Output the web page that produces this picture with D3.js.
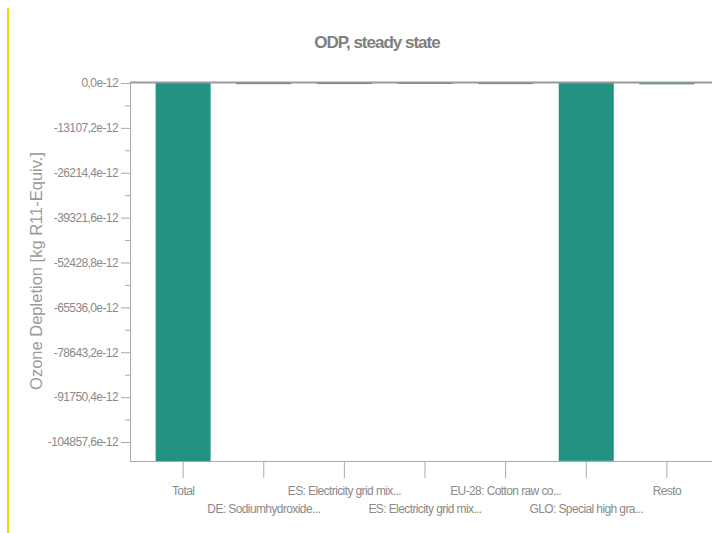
<!DOCTYPE html>
<html>
<head>
<meta charset="utf-8">
<script src="https://cdn.jsdelivr.net/npm/d3@7"></script>
<style>
  html, body { margin: 0; padding: 0; background: #fff; }
  svg { display: block; font-family: "Liberation Sans", Arial, sans-serif; }
</style>
</head>
<body>
<svg id="chart" width="712" height="533"></svg>
<script>
// ---- data ----
const categories = [
  "Total",
  "DE: Sodiumhydroxide...",
  "ES: Electricity grid mix...",
  "ES: Electricity grid mix...",
  "EU-28: Cotton raw co...",
  "GLO: Special high gra...",
  "Resto"
];
const values = [-110410, -330, -300, -280, -320, -110380, -380]; // e-12 kg R11-Equiv.
const yTickValues = [0, -13107.2, -26214.4, -39321.6, -52428.8, -65536.0, -78643.2, -91750.4, -104857.6];
const yMinorTicks = [-6553.6, -19660.8, -32768.0, -45875.2, -58982.4, -72089.6, -85196.8, -98304.0];
const yDomain = [-110410, 0];
const titleText = "ODP, steady state";
const yLabelText = "Ozone Depletion [kg R11-Equiv.]";

// ---- layout ----
const svg = d3.select("#chart");
const mLeft = 130, mTop = 83, mBottom = 461, mRight = 720;
const barColor = "#229383";
const textColor = "#8a8a8a";
const axisColor = "#aaaaaa";

// yellow left line
svg.append("line").attr("x1", 8).attr("x2", 8).attr("y1", 8).attr("y2", 533)
  .attr("stroke", "#f7dc00").attr("stroke-width", 2);

const x = d3.scaleBand().domain(d3.range(categories.length)).range([mLeft, mRight])
  .paddingInner(0.318).paddingOuter(0.318);
const y = d3.scaleLinear().domain(yDomain).range([mBottom, mTop]);

// title
svg.append("text").attr("x", 377).attr("y", 48).attr("text-anchor", "middle")
  .attr("font-size", 17).attr("font-weight", "bold").attr("letter-spacing", "-1px")
  .attr("fill", "#7f7f7f").text(titleText);

// y label
svg.append("text").attr("transform", `translate(42,271) rotate(-90)`)
  .attr("text-anchor", "middle").attr("font-size", 16.5).attr("fill", "#9a9a9a")
  .text(yLabelText);

// bars
svg.append("g").selectAll("rect").data(values).join("rect")
  .attr("x", (d, i) => x(i)).attr("width", x.bandwidth())
  .attr("y", d => y(Math.max(0, d)))
  .attr("height", d => Math.abs(y(d) - y(0)))
  .attr("fill", barColor);

// y axis
const fmt = v => (v === 0 ? "0,0" : d3.format(".1f")(v).replace(".", ",").replace("−", "-")) + "e-12";
const yAxis = d3.axisLeft(y).tickValues(yTickValues).tickFormat(fmt).tickSize(9).tickPadding(3);
const gy = svg.append("g").attr("transform", `translate(${mLeft},0)`).call(yAxis);
gy.select(".domain").remove();
gy.selectAll(".tick line").attr("stroke", axisColor);
gy.selectAll(".tick text").attr("fill", textColor).attr("font-size", 12)
  .attr("letter-spacing", "-0.6px").attr("font-family", "'Liberation Sans', Arial, sans-serif");
const gyMinor = d3.axisLeft(y).tickValues(yMinorTicks).tickFormat("").tickSize(5);
const gm = svg.append("g").attr("transform", `translate(${mLeft},0)`).call(gyMinor);
gm.select(".domain").remove();
gm.selectAll(".tick line").attr("stroke", axisColor);

// left axis line
svg.append("line").attr("x1", mLeft + 0.5).attr("x2", mLeft + 0.5).attr("y1", mTop).attr("y2", mBottom)
  .attr("stroke", axisColor).attr("stroke-width", 1);

// zero/top line
svg.append("line").attr("x1", mLeft).attr("x2", 712).attr("y1", y(0) - 0.5).attr("y2", y(0) - 0.5)
  .attr("stroke", "#9a9a9a").attr("stroke-width", 2);

// x axis
const xAxis = d3.axisBottom(x).tickFormat(i => categories[i]).tickSize(17).tickPadding(0);
const gx = svg.append("g").attr("transform", `translate(0,${mBottom})`).call(xAxis);
gx.select(".domain").remove();
gx.selectAll(".tick line").attr("stroke", axisColor);
gx.selectAll(".tick text").attr("fill", textColor).attr("font-size", 12)
  .attr("letter-spacing", "-0.6px").attr("font-family", "'Liberation Sans', Arial, sans-serif")
  .attr("dy", null)
  .attr("y", (d, i) => (i % 2 === 0 ? 34 : 52));
svg.append("line").attr("x1", mLeft).attr("x2", 712).attr("y1", mBottom + 0.5).attr("y2", mBottom + 0.5)
  .attr("stroke", axisColor).attr("stroke-width", 1);
</script>
</body>
</html>
